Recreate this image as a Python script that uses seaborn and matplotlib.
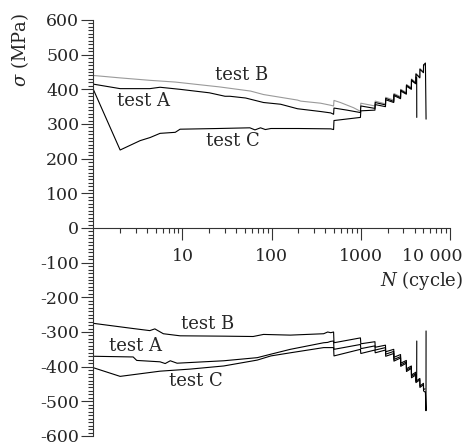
import matplotlib
matplotlib.use('Agg')
import matplotlib.pyplot as plt
import matplotlib.ticker as mticker
import matplotlib.transforms as mtransforms
import seaborn as sns
import numpy as np
import pandas as pd

# --- data (N in cycles, sigma in MPa) ---
blocks = [1000, 1440, 1450, 1890, 1900, 2340, 2350, 2790, 2800, 3240,
          3250, 3690, 3700, 4140, 4150, 4590, 4600, 5040, 5050]

a_top_N = [1, 2, 4.3, 5.6, 9.4, 20, 30, 34, 51, 81, 126, 195, 354, 460, 495,
           500, 700, 990] + blocks + [5300, 5390]
a_top_s = [415, 402, 402, 406, 400, 390, 380, 380, 375, 362, 357, 344, 336, 332, 328,
           346, 340, 333,
           352, 345, 362, 355, 374, 365, 385, 376, 398, 388, 412, 402,
           428, 417, 444, 433, 458, 448, 470, 476, 314]

b_top_N = [1, 2, 4.3, 8.3, 26, 58, 81, 195, 212, 354, 460, 495,
           500, 590, 828, 966, 990] + blocks + [5250]
b_top_s = [440, 433, 426, 421, 407, 395, 385, 369, 366, 360, 354, 352,
           368, 362, 347, 338, 338,
           360, 352, 366, 358, 377, 369, 388, 379, 400, 391, 414, 405,
           430, 420, 446, 436, 460, 451, 472, 468]

c_top_N = [1, 2, 3.35, 4.34, 5.6, 8.3, 9.4, 25, 57, 65, 75, 85, 98, 200, 460, 495,
           500, 990] + blocks[:15] + [4230, 4240]
c_top_s = [400, 225, 252, 261, 273, 276, 285, 287, 289, 283, 289, 284, 287, 287, 286, 284,
           310, 319,
           338, 340, 356, 350, 370, 362, 382, 373, 395, 386, 409, 400,
           425, 416, 436, 434, 319]

a_bot_N = [1, 2.8, 3.07, 5.6, 6.4, 7.3, 8.7, 29, 69, 98, 162, 383, 425, 460, 495,
           500, 990] + blocks + [5300, 5380, 5390]
a_bot_s = [-370, -372, -382, -386, -391, -383, -390, -383, -374, -364, -350, -331, -330, -327, -326,
           -350, -336,
           -348, -340, -352, -345, -364, -356, -379, -371, -395, -386, -410, -402,
           -428, -420, -446, -438, -460, -452, -470, -474, -527, -297]

b_bot_N = [1, 2.8, 4.3, 4.9, 6.1, 9.4, 29, 62, 81, 162, 383, 425, 460, 495,
           500, 990] + blocks + [5250]
b_bot_s = [-275, -290, -296, -291, -305, -311, -312, -313, -307, -309, -305, -300, -302, -300,
           -331, -317,
           -334, -328, -344, -338, -357, -350, -373, -365, -390, -382, -406, -398,
           -424, -416, -442, -434, -456, -448, -466, -464]

c_bot_N = [1, 2, 5.6, 12.2, 29, 69, 98, 162, 383, 460, 495,
           500, 990] + blocks[:15] + [4230, 4240]
c_bot_s = [-403, -428, -413, -407, -398, -381, -369, -360, -345, -345, -345,
           -369, -350,
           -362, -352, -360, -352, -370, -362, -384, -375, -399, -390, -414, -405,
           -432, -424, -442, -440, -326]

series = {
    'B top': (b_top_N, b_top_s),
    'A top': (a_top_N, a_top_s),
    'C top': (c_top_N, c_top_s),
    'B bot': (b_bot_N, b_bot_s),
    'A bot': (a_bot_N, a_bot_s),
    'C bot': (c_bot_N, c_bot_s),
}
frames = []
for key, (n, s) in series.items():
    frames.append(pd.DataFrame({'N': n, 'sigma': s, 'curve': key}))
df = pd.concat(frames, ignore_index=True)

colors = {k: 'black' for k in series}
colors['B top'] = '#9a9a9a'

labels_top = [('test B', 45.7, 440), ('test A', 3.7, 366), ('test C', 36.6, 252)]
labels_bot = [('test B', 19.0, -276), ('test A', 3.0, -341), ('test C', 14.1, -441)]

sns.set_style('ticks')
plt.rcParams['font.family'] = ['DejaVu Serif']
plt.rcParams['mathtext.fontset'] = 'dejavuserif'
plt.rcParams['axes.unicode_minus'] = False

fig = plt.figure(figsize=(4.65, 4.46), dpi=100)
ax = fig.add_axes([93.3 / 465, 10 / 446, (450 - 93.3) / 465, (436 - 20) / 446])

sns.lineplot(data=df, x='N', y='sigma', hue='curve', hue_order=list(series),
             estimator=None, sort=False, palette=colors,
             lw=0.8, legend=False, ax=ax)

ax.set_xscale('log')
ax.set_xlim(1, 10000)
ax.set_ylim(-600, 600)
ax.set_xlabel('')
ax.set_ylabel('')

for side in ['top', 'right']:
    ax.spines[side].set_visible(False)
ax.spines['bottom'].set_position(('data', 0))
for side in ['left', 'bottom']:
    ax.spines[side].set_linewidth(0.8)
    ax.spines[side].set_color('#333333')

ax.set_xticks([10, 100, 1000, 10000], labels=['10', '100', '1000', '10 000'])
minors = [m * d for d in [1, 10, 100, 1000] for m in range(2, 10)]
ax.xaxis.set_minor_locator(mticker.FixedLocator(minors))
ax.xaxis.set_minor_formatter(mticker.NullFormatter())
ax.set_yticks(np.arange(-600, 601, 100))
ax.yaxis.set_minor_locator(mticker.MultipleLocator(10))

ax.tick_params(which='major', length=8.6, width=0.8, color='#333333', labelsize=12.5)
ax.tick_params(which='minor', length=3.6, width=0.8, color='#333333')
ax.tick_params(axis='x', which='major', pad=6)
ax.tick_params(axis='y', which='major', pad=1.5)

# shift the last x tick label left so it fits, as in the original
last = ax.xaxis.get_major_ticks()[-1].label1
last.set_transform(last.get_transform() +
                   mtransforms.ScaledTranslation(-0.18, 0, fig.dpi_scale_trans))

for txt, x, y in labels_top + labels_bot:
    ax.text(x, y, txt, ha='center', va='center', fontsize=13)

fig.text(20 / 465, 1 - 50 / 446, r'$\sigma$ (MPa)', rotation=90,
         ha='center', va='center', fontsize=13)
fig.text(463 / 465, 1 - 280 / 446, r'$N$ (cycle)', ha='right', va='center', fontsize=13)

fig.savefig('out.png', dpi=100)
